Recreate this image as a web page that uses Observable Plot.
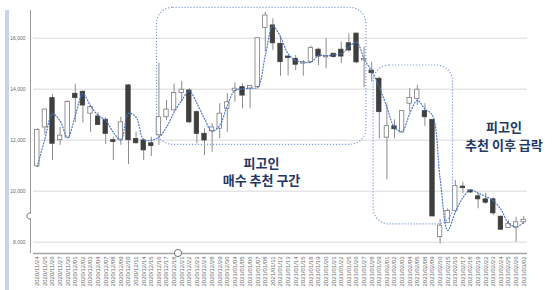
<!DOCTYPE html>
<html><head><meta charset="utf-8">
<script src="https://cdn.jsdelivr.net/npm/d3@7"></script>
<script src="https://cdn.jsdelivr.net/npm/@observablehq/plot@0.6"></script>
<style>
body{margin:0;background:#fff;}
#wrap{position:relative;width:553px;height:290px;overflow:hidden;background:#fff;}
#strip{position:absolute;left:5px;top:10px;width:3.5px;height:280px;background:#c9d4ea;}
#deco{position:absolute;left:0;top:0;pointer-events:none;}
</style></head><body>
<div id="wrap"><div id="strip"></div></div>
<script>
const dates = ["2020/11/24","2020/11/25","2020/11/26","2020/11/27","2020/11/30","2020/12/01","2020/12/02","2020/12/03","2020/12/04","2020/12/07","2020/12/08","2020/12/09","2020/12/10","2020/12/11","2020/12/14","2020/12/15","2020/12/16","2020/12/17","2020/12/18","2020/12/21","2020/12/22","2020/12/23","2020/12/24","2020/12/28","2020/12/29","2020/12/30","2021/01/04","2021/01/05","2021/01/06","2021/01/07","2021/01/08","2021/01/11","2021/01/12","2021/01/13","2021/01/14","2021/01/15","2021/01/18","2021/01/19","2021/01/20","2021/01/21","2021/01/22","2021/01/25","2021/01/26","2021/01/27","2021/01/28","2021/01/29","2021/02/01","2021/02/02","2021/02/03","2021/02/04","2021/02/05","2021/02/08","2021/02/09","2021/02/10","2021/02/15","2021/02/16","2021/02/17","2021/02/18","2021/02/19","2021/02/22","2021/02/23","2021/02/24","2021/02/25","2021/02/26","2021/03/02"];
const open  = [10970,12500,13650,12000,12100,13820,13900,13040,12930,12800,12000,12020,14150,12050,11990,11880,12190,12900,13170,13850,13950,13100,12250,12350,12450,13230,13940,14080,14020,14080,16400,16500,15780,15280,15190,15000,15060,15550,15250,15390,15550,15800,16180,15130,14730,14410,12100,12540,12300,13430,13620,13140,12800,8200,8750,9220,10180,10030,9800,9680,9680,9000,8560,8570,8780];
const high  = [12450,13220,13800,12500,13550,14200,13920,13360,13080,12880,12120,12900,14170,12310,12050,12120,15020,13560,14200,14300,14020,13150,12450,12650,13430,13820,14250,14210,14150,16000,17020,16760,16080,15300,15320,15130,15690,15610,15980,15400,15850,16170,16200,15650,15060,14470,13430,12800,13160,14020,14150,13430,12810,8900,9310,10420,10350,10060,9960,9920,9730,9020,8840,8980,9000];
const low   = [10950,12200,11200,11800,12100,12700,12680,12310,12600,11830,11200,11800,11050,11850,11200,11360,11800,12770,13150,13490,12650,11860,11400,11530,12050,12310,13490,13230,13230,14000,15450,15520,14510,14520,14730,14510,15000,14930,14800,15220,15000,15450,15000,14060,14280,12050,10450,12050,12300,13100,13360,12540,9000,7930,8740,9200,9900,9920,9310,9480,9050,8480,8540,8000,8700];
const close = [12400,13200,11860,12180,13500,13650,13360,13300,12600,12250,11930,12700,12000,11880,11600,11770,12900,13200,13850,13980,12700,12250,11990,12500,13040,13490,14020,13750,14130,16000,16890,15800,15060,15220,14960,15060,15610,15280,15300,15260,15280,15520,15050,15190,14630,13100,12550,12430,13140,13660,13980,12900,9010,8650,9220,10200,10120,9950,9680,9550,9130,8490,8720,8780,8880];
const trend = [10970,12050,13035,12750,12100,12970,13820,13360,12970,12770,12310,12000,13050,12900,12020,12000,12120,12510,13100,13560,13925,13450,12840,12350,12580,13360,13950,14010,14040,14080,15320,16470,16050,15390,15130,15060,15060,15320,15300,15350,15390,15650,15850,15190,14700,14080,13300,12500,12350,13040,13560,13230,12970,10500,8460,9180,9750,10050,9920,9800,9620,9290,8750,8600,8770];
const yTicks = [8000,10000,12000,14000,16000];
// annotation boxes (x in day index, y in price)
const boxX1 = [15.75, 44.25];
const boxX2 = [43.3, 54.7];
const boxY1 = [11820, 8700];
const boxY2 = [17190, 14930];
const notes = ["피고인\n매수 추천 구간", "피고인\n추천 이후 급락"];
const noteX = [29.5, 61.4];
const noteY = [10800, 12180];

const data = dates.map((d, i) => ({i, date: d, o: open[i], h: high[i], l: low[i], c: close[i], m: trend[i], up: close[i] >= open[i]}));
const boxes = boxX1.map((x, k) => ({x1: x, x2: boxX2[k], y1: boxY1[k], y2: boxY2[k]}));

const chart = Plot.plot({
  width: 553, height: 290,
  marginLeft: 33, marginRight: 26, marginTop: 10, marginBottom: 37,
  style: {fontFamily: "Liberation Sans, Arial, sans-serif", fontSize: "6px", color: "#6a6a6a", background: "transparent"},
  x: {domain: [-0.5, 64.5], ticks: d3.range(dates.length), tickFormat: i => dates[i], tickRotate: -90, tickSize: 0, tickPadding: 3, label: null},
  y: {domain: [7557, 17086], axis: null},
  marks: [
    Plot.ruleY(yTicks, {stroke: "#d9d9d9", strokeWidth: 1}),
    Plot.text(yTicks, {y: d => d, text: d => d3.format(",")(d), frameAnchor: "left", textAnchor: "end", dx: -8, fontSize: 5, fill: "#6a6a6a"}),
    Plot.ruleX([-0.5], {dx: -3, stroke: "#9a9a9a", strokeWidth: 1}),
    Plot.ruleY([7557], {stroke: "#a6a6a6", strokeWidth: 1.5}),
    Plot.ruleX(data, {x: "i", y1: "l", y2: "h", stroke: "#8c8c8c", strokeWidth: 1}),
    Plot.rect(data, {x1: d => d.i - 0.5, x2: d => d.i + 0.5, y1: "o", y2: "c", insetLeft: 1.6, insetRight: 1.6,
      fill: d => d.up ? "#ffffff" : "#3f3f3f", stroke: d => d.up ? "#7a7a7a" : "#3f3f3f", strokeWidth: 0.8}),
    Plot.line(data, {x: "i", y: "m", curve: "catmull-rom", stroke: "#4a78c8", strokeWidth: 1.2, strokeDasharray: "1,1.9"}),
    Plot.rect(boxes, {x1: "x1", x2: "x2", y1: "y1", y2: "y2", rx: 16, fill: "none", stroke: "#7f9fd8", strokeWidth: 1.2, strokeDasharray: "1.2,1.8", clip: false}),
    Plot.text(notes.map((t, k) => ({t, x: noteX[k], y: noteY[k]})), {x: "x", y: "y", text: "t", fontSize: 13, fontWeight: 700, fill: "#1f3864", lineHeight: 1.35, fontFamily: "Noto Sans CJK KR"})
  ]
});
const wrap = document.getElementById("wrap");
chart.style.position = "absolute"; chart.style.left = "0"; chart.style.top = "0";
wrap.appendChild(chart);
// selection handles of the pasted picture
const ns = "http://www.w3.org/2000/svg";
const deco = document.createElementNS(ns, "svg");
deco.setAttribute("id", "deco"); deco.setAttribute("width", 553); deco.setAttribute("height", 290);
deco.innerHTML = '<path d="M31,213.2 A3,3 0 1 0 31,218.8" fill="#fff" stroke="#707070" stroke-width="1"/>' +
  '<circle cx="178" cy="253" r="3.6" fill="#fff" stroke="#707070" stroke-width="1"/>';
wrap.appendChild(deco);
</script>
</body></html>
